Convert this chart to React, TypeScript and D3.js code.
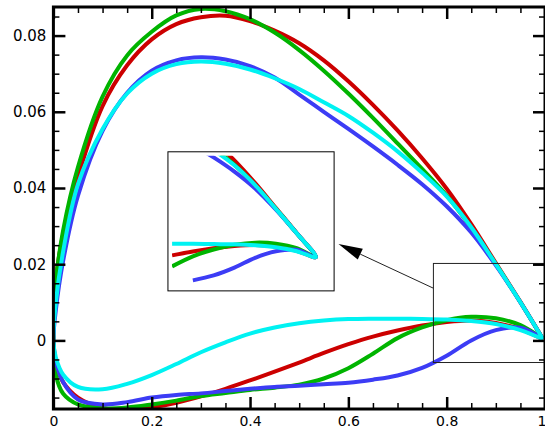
import { useRef, useEffect } from 'react';
import * as d3 from 'd3';

const W = 545;
const H = 430;

// chord stations shared by every section
const stations = [0, 0.005, 0.02, 0.05, 0.1, 0.15, 0.2, 0.25, 0.3, 0.35, 0.4, 0.45, 0.5, 0.55, 0.6, 0.65, 0.7, 0.75, 0.8, 0.85, 0.9, 0.95, 0.996];

const redUpper = [0.002, 0.016, 0.028, 0.043, 0.0615, 0.0722, 0.079, 0.083, 0.0848, 0.0852, 0.0838, 0.0813, 0.078, 0.0735, 0.068, 0.0618, 0.0551, 0.0478, 0.0398, 0.0305, 0.0203, 0.0101, 0.0003];
const redLower = [0.002, -0.006, -0.011, -0.015, -0.0177, -0.0181, -0.0176, -0.0164, -0.0147, -0.0127, -0.0105, -0.0082, -0.0058, -0.0033, -0.001, 0.001, 0.0026, 0.0039, 0.0048, 0.0052, 0.0046, 0.0029, 0.0003];

const greenUpper = [0.002, 0.0155, 0.029, 0.0455, 0.064, 0.0748, 0.081, 0.0853, 0.087, 0.0864, 0.0843, 0.0808, 0.0762, 0.0708, 0.0648, 0.0584, 0.0517, 0.045, 0.038, 0.0296, 0.02, 0.01, 0.0003];
const greenLower = [0.002, -0.009, -0.014, -0.0168, -0.0178, -0.0176, -0.0168, -0.0158, -0.0146, -0.0138, -0.013, -0.0124, -0.0116, -0.01, -0.0073, -0.0035, 0.0006, 0.0034, 0.0053, 0.0062, 0.0058, 0.004, 0.0003];

const blueUpper = [0, 0.008, 0.021, 0.038, 0.055, 0.065, 0.0708, 0.0735, 0.0743, 0.0737, 0.072, 0.069, 0.0645, 0.06, 0.0555, 0.0509, 0.0461, 0.041, 0.0352, 0.0283, 0.0197, 0.01, 0.0003];
const blueLower = [0, -0.0055, -0.011, -0.0155, -0.0168, -0.0162, -0.015, -0.0143, -0.0139, -0.0133, -0.0127, -0.0122, -0.0119, -0.0115, -0.0111, -0.0103, -0.0092, -0.0072, -0.004, 0, 0.0027, 0.0033, 0.0003];

const cyanUpper = [0, 0.01, 0.0235, 0.041, 0.0555, 0.0648, 0.07, 0.0725, 0.0732, 0.0726, 0.0711, 0.0688, 0.066, 0.0625, 0.0589, 0.0545, 0.0496, 0.044, 0.0378, 0.0297, 0.02, 0.01, 0.0003];
const cyanLower = [0, -0.0045, -0.009, -0.0122, -0.0128, -0.0114, -0.0091, -0.0062, -0.0031, -0.0005, 0.0018, 0.0034, 0.0045, 0.0052, 0.0056, 0.0057, 0.0057, 0.0056, 0.0055, 0.0051, 0.0043, 0.0027, 0.0003];

const uppers = [redUpper, greenUpper, blueUpper, cyanUpper];
const lowers = [redLower, greenLower, blueLower, cyanLower];
const colors = ['#cc0000', '#00b400', '#3c3cf5', '#00f2f2'];
// where each lower surface begins inside the inset
const insetLowerFrom = [0.64, 0.64, 0.69, 0.64];

const xMajor = [0, 0.2, 0.4, 0.6, 0.8, 1];
const xLabels = ['0', '0.2', '0.4', '0.6', '0.8', '1'];
const yMajor = [0, 0.02, 0.04, 0.06, 0.08];
const yLabels = ['0', '0.02', '0.04', '0.06', '0.08'];

// annotation geometry in data units of the main plot
const sourceBox = { x0: 0.773, x1: 1.0, y0: -0.0058, y1: 0.0202 };
const insetBox = { x0: 0.233, x1: 0.571, y0: 0.013, y1: 0.0495 };
const insetDomainX = [0.64, 1.04];
const insetDomainY = [-0.0135, 0.0433];
const arrowTail = [0.773, 0.0137];
const arrowTip = [0.58, 0.0253];

export default function App() {
  const svgRef = useRef<SVGSVGElement>(null);

  useEffect(() => {
    const svg = d3.select(svgRef.current);
    svg.selectAll('*').remove();

    const left = 53.4, right = 545, top = 7, bottom = 409;
    const x = d3.scaleLinear().domain([0, 1]).range([left, right]);
    const y = d3.scaleLinear().domain([-0.018, 0.0875]).range([bottom, top]);

    const defs = svg.append('defs');
    defs.append('clipPath').attr('id', 'plot-clip')
      .append('rect').attr('x', left).attr('y', top)
      .attr('width', right - left).attr('height', bottom - top);

    const outline = (up: number[], lo: number[]) => [
      ...stations.map((s, i) => [s, up[i]]).reverse(),
      ...stations.slice(1).map((s, i) => [s, lo[i + 1]]),
    ];

    const line = d3.line<number[]>()
      .x((d) => x(d[0]))
      .y((d) => y(d[1]))
      .curve(d3.curveCatmullRom.alpha(0.5));

    const curves = svg.append('g').attr('clip-path', 'url(#plot-clip)');
    uppers.forEach((up, i) => {
      curves.append('path')
        .attr('d', line(outline(up, lowers[i])))
        .attr('fill', 'none')
        .attr('stroke', colors[i])
        .attr('stroke-width', 4)
        .attr('stroke-linejoin', 'round');
    });

    // source box + arrow
    svg.append('rect')
      .attr('x', x(sourceBox.x0)).attr('y', y(sourceBox.y1))
      .attr('width', x(sourceBox.x1) - x(sourceBox.x0))
      .attr('height', y(sourceBox.y0) - y(sourceBox.y1))
      .attr('fill', 'none').attr('stroke', '#222').attr('stroke-width', 1);

    const tx = x(arrowTip[0]), ty = y(arrowTip[1]);
    const sx = x(arrowTail[0]), sy = y(arrowTail[1]);
    const len = Math.hypot(sx - tx, sy - ty);
    const ux = (sx - tx) / len, uy = (sy - ty) / len;
    const headLen = 24, headHalf = 6;
    const bx = tx + ux * headLen, by = ty + uy * headLen;
    svg.append('line')
      .attr('x1', sx).attr('y1', sy).attr('x2', bx).attr('y2', by)
      .attr('stroke', '#222').attr('stroke-width', 1);
    svg.append('path')
      .attr('d', `M${tx},${ty}L${bx - uy * headHalf},${by + ux * headHalf}L${bx + uy * headHalf},${by - ux * headHalf}Z`)
      .attr('fill', '#000');

    // inset
    const ix0 = x(insetBox.x0), ix1 = x(insetBox.x1);
    const iy0 = y(insetBox.y1), iy1 = y(insetBox.y0);
    svg.append('rect')
      .attr('x', ix0).attr('y', iy0)
      .attr('width', ix1 - ix0).attr('height', iy1 - iy0)
      .attr('fill', '#fff').attr('stroke', '#000').attr('stroke-width', 1);
    defs.append('clipPath').attr('id', 'inset-clip')
      .append('rect').attr('x', ix0 + 4).attr('y', iy0 + 4)
      .attr('width', ix1 - ix0 - 8).attr('height', iy1 - iy0 - 8);

    const xi = d3.scaleLinear().domain(insetDomainX).range([ix0, ix1]);
    const yi = d3.scaleLinear().domain(insetDomainY).range([iy1, iy0]);
    const lineInset = d3.line<number[]>()
      .x((d) => xi(d[0]))
      .y((d) => yi(d[1]))
      .curve(d3.curveCatmullRom.alpha(0.5));
    const inset = svg.append('g').attr('clip-path', 'url(#inset-clip)');
    uppers.forEach((up, i) => {
      const upPts = stations.map((s, k) => [s, up[k]]).filter((d) => d[0] >= 0.55);
      const loPts = stations.map((s, k) => [s, lowers[i][k]]).filter((d) => d[0] >= insetLowerFrom[i]).reverse();
      inset.append('path')
        .attr('d', lineInset([...upPts, ...loPts.slice(1)]))
        .attr('fill', 'none')
        .attr('stroke', colors[i])
        .attr('stroke-width', 4)
        .attr('stroke-linejoin', 'round');
    });

    // ticks, all pointing inward
    const font = '"DejaVu Sans", Arial, sans-serif';
    const xMinor = d3.range(0.05, 1, 0.05).filter((v) => !xMajor.some((m) => Math.abs(m - v) < 1e-6));
    const yMinor = d3.range(-0.015, 0.0875, 0.005).filter((v) => !yMajor.some((m) => Math.abs(m - v) < 1e-6));

    const addAxis = (axis: any, transform: string, major: boolean, size: number) => {
      const g = svg.append('g').attr('transform', transform).call(axis);
      g.select('.domain').remove();
      g.selectAll('line').attr('stroke', '#000').attr('stroke-width', major ? 2.5 : 1.5);
      if (!size) g.selectAll('text').remove();
      else g.selectAll('text').attr('font-family', font).attr('font-size', size).attr('fill', '#000');
      return g;
    };

    const xAxis = addAxis(d3.axisBottom(x).tickValues(xMajor).tickSize(-12).tickPadding(7).tickFormat((_, i) => xLabels[i]), `translate(0,${bottom})`, true, 14);
    // last label sits at the window edge: keep it inside
    xAxis.selectAll('text').filter((_, i) => i === xMajor.length - 1).attr('text-anchor', 'end').attr('dx', 1);
    addAxis(d3.axisBottom(x).tickValues(xMinor).tickSize(-6).tickFormat(() => ''), `translate(0,${bottom})`, false, 0);
    addAxis(d3.axisTop(x).tickValues(xMajor).tickSize(-12), `translate(0,${top})`, true, 0);
    addAxis(d3.axisTop(x).tickValues(xMinor).tickSize(-6), `translate(0,${top})`, false, 0);
    addAxis(d3.axisLeft(y).tickValues(yMajor).tickSize(-12).tickPadding(7).tickFormat((_, i) => yLabels[i]), `translate(${left},0)`, true, 15);
    addAxis(d3.axisLeft(y).tickValues(yMinor).tickSize(-6).tickFormat(() => ''), `translate(${left},0)`, false, 0);
    addAxis(d3.axisRight(y).tickValues(yMajor).tickSize(-12), `translate(${right},0)`, true, 0);
    addAxis(d3.axisRight(y).tickValues(yMinor).tickSize(-6), `translate(${right},0)`, false, 0);

    svg.append('rect')
      .attr('x', left).attr('y', top)
      .attr('width', right - left).attr('height', bottom - top)
      .attr('fill', 'none').attr('stroke', '#000').attr('stroke-width', 3);
  }, []);

  return (
    <div style={{ position: 'fixed', left: 0, top: 0 }}>
      <svg ref={svgRef} width={W} height={H} style={{ display: 'block', background: '#fff' }} />
    </div>
  );
}
